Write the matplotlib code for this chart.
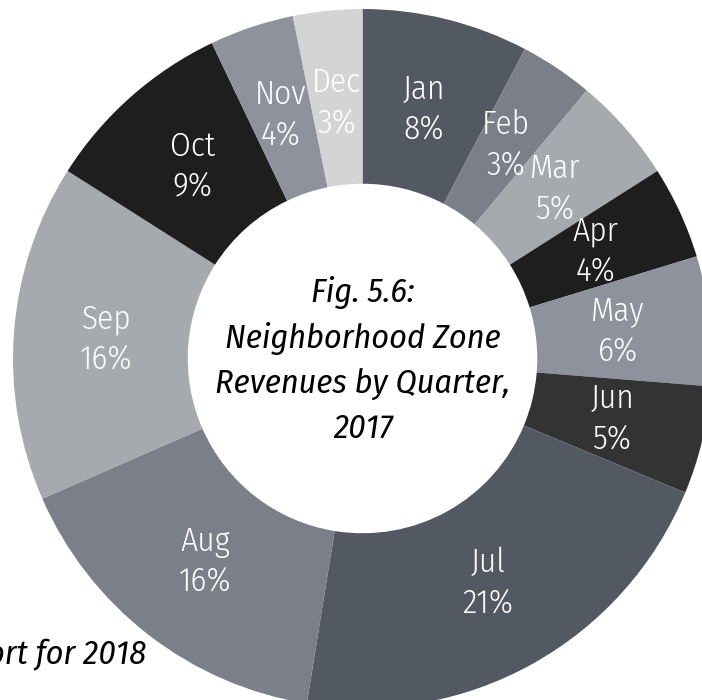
import numpy as np
import matplotlib
matplotlib.use("Agg")
import matplotlib.pyplot as plt

# monthly revenue shares
months = ['Jan', 'Feb', 'Mar', 'Apr', 'May', 'Jun',
          'Jul', 'Aug', 'Sep', 'Oct', 'Nov', 'Dec']
shares = [7.7, 3.4, 4.9, 4.3, 6.0, 5.0, 21.3, 15.9, 15.6, 8.9, 3.9, 3.2]

colors = ['#535962', '#7a7f89', '#a6a9ae', '#1e1e1e', '#8d929c', '#333333',
          '#535962', '#7a7f89', '#a6a9ae', '#1e1e1e', '#8d929c', '#d4d4d4']

font = ['Fira Sans Condensed', 'DejaVu Sans']

fig = plt.figure(figsize=(7.02, 7.00), dpi=100)
W, H = 702, 700
cx, cy, R = 362.5, 358.5, 349.5
ax = fig.add_axes([(cx - R) / W, (H - cy - R) / H, 2 * R / W, 2 * R / H])

wedges, _ = ax.pie(shares, radius=1, startangle=90, counterclock=False,
                   colors=colors,
                   wedgeprops=dict(width=0.5, edgecolor='none', linewidth=0))
ax.set_xlim(-1, 1)
ax.set_ylim(-1, 1)
ax.set_aspect('auto')

total = sum(shares)
for w, m, s in zip(wedges, months, shares):
    ang = np.deg2rad((w.theta1 + w.theta2) / 2)
    ax.text(0.735 * np.cos(ang), 0.735 * np.sin(ang),
            f"{m}\n{round(s / total * 100)}%",
            ha='center', va='center', color='white', fontsize=24,
            family=font, weight=300, linespacing=1.32)

ax.text(0, -0.005, "Fig. 5.6:\nNeighborhood Zone\nRevenues by Quarter,\n2017",
        ha='center', va='center', fontsize=24.5, style='italic',
        family=font, linespacing=1.5, color='black')

fig.text(146 / W, 1 - 655 / H, "Source: Annual report for 2018",
         ha='right', va='center', fontsize=24.5, style='italic',
         family=font, color='black')

fig.savefig('out.png', dpi=100)
